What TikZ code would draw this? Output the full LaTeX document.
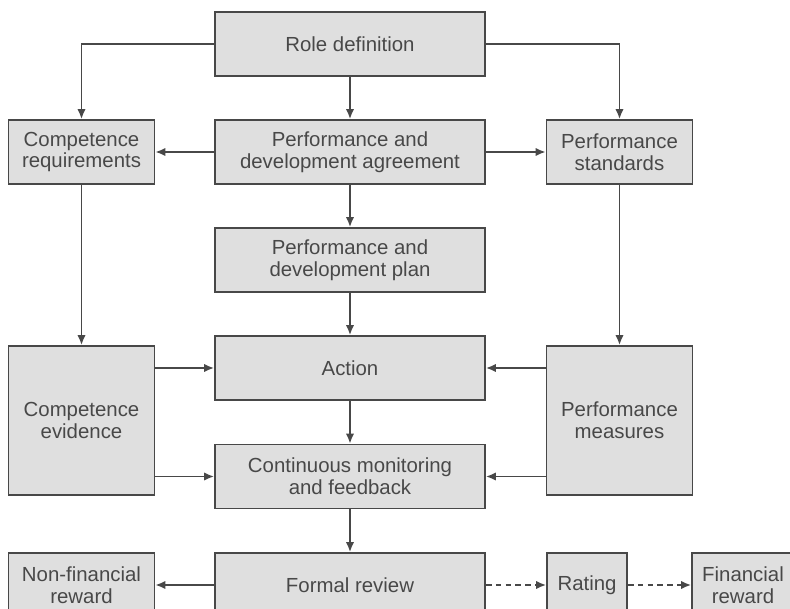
\documentclass[tikz,border=0pt]{standalone}
\usepackage{fontspec}
\setmainfont{Liberation Sans}
\usetikzlibrary{arrows.meta}
\definecolor{boxfill}{RGB}{223,223,223}
\definecolor{ink}{RGB}{72,72,72}
\tikzstyle{stage}=[rectangle,draw=ink,fill=boxfill,line width=1.3pt,text=ink,align=center,font=\fontsize{14.5}{15.6}\selectfont,minimum width=6.75cm,minimum height=1.6cm,inner sep=0pt]
\tikzstyle{side}=[stage,minimum width=3.65cm]
\tikzstyle{tall}=[side,minimum height=3.725cm]
\tikzstyle{flow}=[-{Latex[length=7pt,width=6pt]},draw=ink,line width=1.3pt]
\tikzstyle{maybe}=[flow,dashed,dash pattern=on 4pt off 3pt]

\begin{document}
\begin{tikzpicture}[x=0.025cm,y=-0.025cm]
                    \clip (0,0) rectangle (790,609);
                    \fill [white] (0,0) rectangle (790,609);

                    \node (role) at (350,44) [stage] {Role definition};
                    \node (creq) at (81.5,152) [side] {Competence\\requirements};
                    \node (pda) at (350,152) [stage] {Performance and\\development agreement};
                    \node (pstd) at (619.5,152) [side] {Performance\\standards};
                    \node (pdp) at (350,260) [stage] {Performance and\\development plan};
                    \node (act) at (350,368) [stage] {Action};
                    \node (cev) at (81.5,420.5) [tall] {Competence\\evidence};
                    \node (pmeas) at (619.5,420.5) [tall] {Performance\\measures};
                    \node (cmf) at (350,476.5) [stage] {Continuous monitoring\\and feedback};
                    \node (frev) at (350,585) [stage] {Formal review};
                    \node (nfr) at (81.5,585) [side] {Non-financial\\reward};
                    \node (rate) at (587,585) [side,minimum width=2cm] {Rating};
                    \node (frew) at (743,585) [side,minimum width=2.55cm] {Financial\\reward};

                    \draw [flow] (role.west) -| (creq.north);
                    \draw [flow] (role.east) -| (pstd.north);
                    \draw [flow] (role) -- (pda);
                    \draw [flow] (pda) -- (creq);
                    \draw [flow] (pda) -- (pstd);
                    \draw [flow] (pda) -- (pdp);
                    \draw [flow] (pdp) -- (act);
                    \draw [flow] (act) -- (cmf);
                    \draw [flow] (cmf) -- (frev);
                    \draw [flow] (creq) -- (cev);
                    \draw [flow] (pstd) -- (pmeas);
                    \draw [flow] (cev.east |- act.west) -- (act.west);
                    \draw [flow] (cev.east |- cmf.west) -- (cmf.west);
                    \draw [flow] (pmeas.west |- act.east) -- (act.east);
                    \draw [flow] (pmeas.west |- cmf.east) -- (cmf.east);
                    \draw [flow] (frev) -- (nfr);
                    \draw [maybe] (frev) -- (rate);
                    \draw [maybe] (rate) -- (frew);
                \end{tikzpicture}
\end{document}
